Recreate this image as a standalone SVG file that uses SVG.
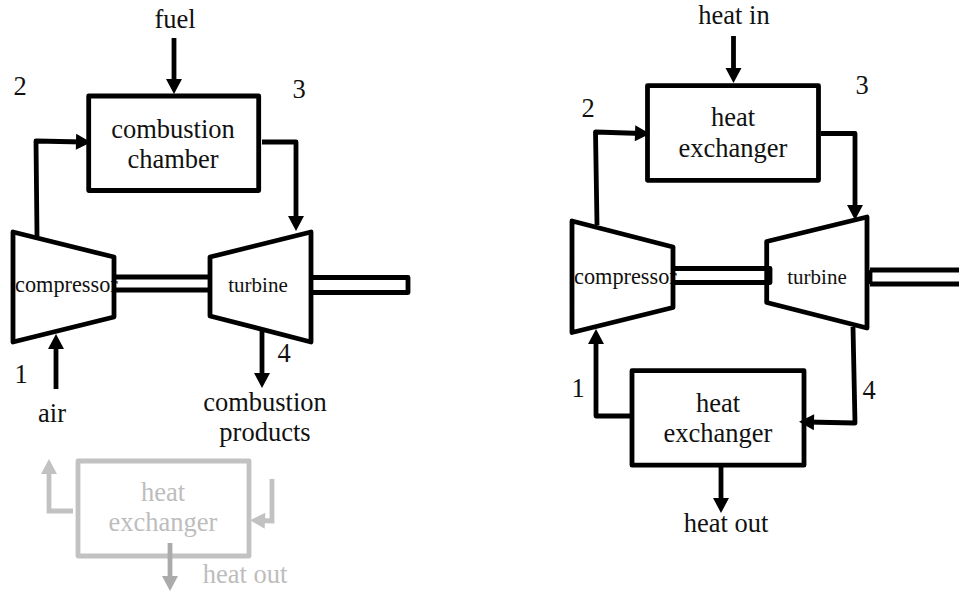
<svg xmlns="http://www.w3.org/2000/svg" width="959" height="591" viewBox="0 0 959 591">
<style>
text{font-family:"Liberation Serif","Times New Roman",serif;font-size:26.5px;fill:#111;text-anchor:middle}
text.s{font-size:21px}
text.p{font-size:22.3px;text-anchor:start}
text.g{fill:#bdbdbd}
.b{fill:none;stroke:#000;stroke-width:4.8;stroke-linejoin:round}
.c{fill:none;stroke:#000;stroke-width:4.8;stroke-linejoin:round;marker-end:url(#k)}
.gb{fill:none;stroke:#c2c2c2;stroke-width:4.8;stroke-linejoin:round}
.gc{fill:none;stroke:#c2c2c2;stroke-width:4.8;marker-end:url(#g)}
.dc{fill:none;stroke:#ababab;stroke-width:4.8;marker-end:url(#d)}
</style>
<defs>
<marker id="k" markerUnits="userSpaceOnUse" markerWidth="16" markerHeight="16" refX="7" refY="8" orient="auto" overflow="visible"><path d="M0 0L15 8L0 16Z" fill="#000"/></marker>
<marker id="g" markerUnits="userSpaceOnUse" markerWidth="16" markerHeight="16" refX="7" refY="8" orient="auto" overflow="visible"><path d="M0 0L15 8L0 16Z" fill="#c2c2c2"/></marker>
<marker id="d" markerUnits="userSpaceOnUse" markerWidth="16" markerHeight="16" refX="7" refY="8" orient="auto" overflow="visible"><path d="M0 0L15 8L0 16Z" fill="#ababab"/></marker>
</defs>
<rect width="959" height="591" fill="#fff"/>
<g id="left-labels">
<text x="175" y="28">fuel</text>
<text x="20" y="95">2</text>
<text x="299" y="98">3</text>
<text x="21" y="383">1</text>
<text x="284" y="362">4</text>
<text x="52" y="422">air</text>
<text x="265" y="411">combustion</text>
<text x="265" y="441">products</text>
</g>
<g id="combustion-chamber">
<rect class="b" x="88.7" y="96" width="170" height="94.5"/>
<text x="173" y="138">combustion</text>
<text x="173" y="168">chamber</text>
</g>
<g id="compressor-left">
<text class="p" x="15" y="292">compressor</text>
<path class="b" d="M13 232L114 257V317L13 342Z"/>
</g>
<g id="turbine-left">
<text class="s" x="258" y="292">turbine</text>
<path class="b" d="M311 232L210 257V316L311 342Z"/>
</g>
<g id="shaft-left">
<path class="b" d="M114 277H210M114 290H210"/>
<path class="b" d="M313 277.5H408V292.5H313"/>
</g>
<g id="heat-exchanger-faded">
<rect class="gb" x="78" y="461" width="171" height="95"/>
<text class="g" x="163" y="501">heat</text>
<text class="g" x="163" y="531">exchanger</text>
<text class="g" x="245" y="583">heat out</text>
</g>
<g id="right-labels">
<text x="734" y="24">heat in</text>
<text x="588" y="117">2</text>
<text x="862" y="94">3</text>
<text x="578" y="397">1</text>
<text x="869" y="399">4</text>
<text x="726" y="532">heat out</text>
</g>
<g id="heat-exchanger-top">
<rect class="b" x="647.5" y="85.7" width="171" height="94.6"/>
<text x="733" y="126">heat</text>
<text x="733" y="157">exchanger</text>
</g>
<g id="compressor-right">
<text class="p" x="574" y="284">compressor</text>
<path class="b" d="M572 221L673 247V307.5L572 332.5Z"/>
</g>
<g id="turbine-right">
<text class="s" x="817" y="284">turbine</text>
<path class="b" d="M766.7 241.5L867 217V328L766.7 302.5Z"/>
</g>
<g id="shaft-right">
<path class="b" d="M673 268.5H770V282.5H673"/>
<path class="b" d="M870 270H959M870 284H959M870 270V284"/>
</g>
<g id="heat-exchanger-bottom">
<rect class="b" x="632" y="370.7" width="172" height="94.5"/>
<text x="718" y="412">heat</text>
<text x="718" y="442">exchanger</text>
</g>
<g id="connectors">
<path class="c" d="M174 38V86"/>
<path class="c" d="M37 236L36 141L83 142"/>
<path class="c" d="M262 142H296V223"/>
<path class="c" d="M56 389V342"/>
<path class="c" d="M262 331V380"/>
<path class="gc" d="M73 511H49V467"/>
<path class="gc" d="M272 479V521L258 520.5"/>
<path class="dc" d="M170 543V583"/>
<path class="c" d="M733.5 36V75"/>
<path class="c" d="M597 225L595.5 132L642 133.5"/>
<path class="c" d="M821 133.5H855V212"/>
<path class="c" d="M632 416H596V337"/>
<path class="c" d="M853 327L855 423L807 422"/>
<path class="c" d="M721 467V505"/>
</g>
</svg>
